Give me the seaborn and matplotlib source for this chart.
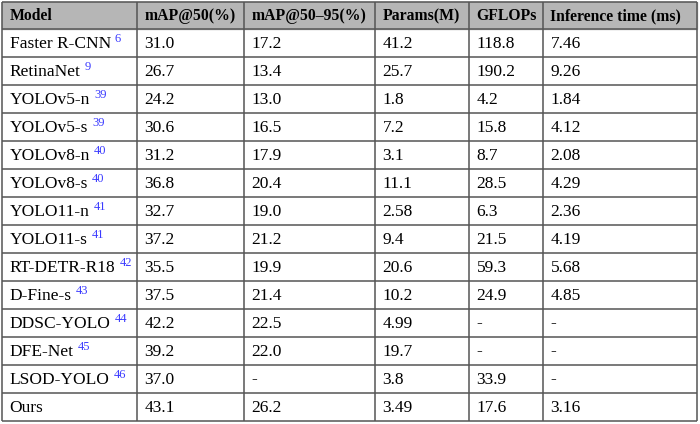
import matplotlib
matplotlib.use("Agg")
import matplotlib.pyplot as plt
import seaborn as sns

# table content
header = ["Model", "mAP@50(%)", "mAP@50\u201395(%)", "Params(M)", "GFLOPs", "Inference time (ms)"]
models = ["Faster R-CNN", "RetinaNet", "YOLOv5-n", "YOLOv5-s", "YOLOv8-n", "YOLOv8-s",
          "YOLO11-n", "YOLO11-s", "RT-DETR-R18", "D-Fine-s", "DDSC-YOLO", "DFE-Net",
          "LSOD-YOLO", "Ours"]
refs = ["6", "9", "39", "39", "40", "40", "41", "41", "42", "43", "44", "45", "46", ""]
map50 = ["31.0", "26.7", "24.2", "30.6", "31.2", "36.8", "32.7", "37.2", "35.5", "37.5",
         "42.2", "39.2", "37.0", "43.1"]
map5095 = ["17.2", "13.4", "13.0", "16.5", "17.9", "20.4", "19.0", "21.2", "19.9", "21.4",
           "22.5", "22.0", "-", "26.2"]
params = ["41.2", "25.7", "1.8", "7.2", "3.1", "11.1", "2.58", "9.4", "20.6", "10.2",
          "4.99", "19.7", "3.8", "3.49"]
gflops = ["118.8", "190.2", "4.2", "15.8", "8.7", "28.5", "6.3", "21.5", "59.3", "24.9",
          "-", "-", "33.9", "17.6"]
infer = ["7.46", "9.26", "1.84", "4.12", "2.08", "4.29", "2.36", "4.19", "5.68", "4.85",
         "-", "-", "-", "3.16"]

sns.set_theme(style="white")
plt.rcParams["font.family"] = ["Liberation Serif", "DejaVu Serif"]

col_edges = [2, 137, 244, 375, 469, 543, 697]
top, head_h, row_h = 2, 27, 28

fig = plt.figure(figsize=(7, 4.24), dpi=100)
ax = fig.add_axes([0, 0, 1, 1])
ax.set_xlim(0, 700)
ax.set_ylim(424, 0)
ax.axis("off")

n = len(models)
bottom = top + head_h + n * row_h

# header background
ax.axhspan(top, top + head_h, xmin=col_edges[0] / 700, xmax=col_edges[-1] / 700,
           color="#b6b6b6", zorder=0)

# grid lines
line_col = "#555555"
ax.hlines([top, top + head_h] + [top + head_h + (i + 1) * row_h for i in range(n)],
          col_edges[0], col_edges[-1], colors=line_col, lw=1.1)
ax.vlines(col_edges, top, bottom, colors=line_col, lw=1.1)

fs = 12.5
for j, h in enumerate(header):
    ax.text(col_edges[j] + 7.5, top + head_h / 2 + 0.5, h, fontsize=11.3, fontweight="bold",
            va="center", ha="left", color="#000000")

columns = [models, map50, map5095, params, gflops, infer]
for i in range(n):
    yc = top + head_h + (i + 0.5) * row_h + 0.5
    for j, col in enumerate(columns):
        t = ax.text(col_edges[j] + 7.5, yc, col[i], fontsize=fs, va="center", ha="left",
                    color="#000000")
        if j == 0 and refs[i]:
            ax.annotate(refs[i], xy=(1, 1), xycoords=t, xytext=(3.0, 1.5),
                        textcoords="offset points", fontsize=9, color="#3b3bff",
                        ha="left", va="top")

fig.savefig("out.png", dpi=100)
plt.close(fig)
